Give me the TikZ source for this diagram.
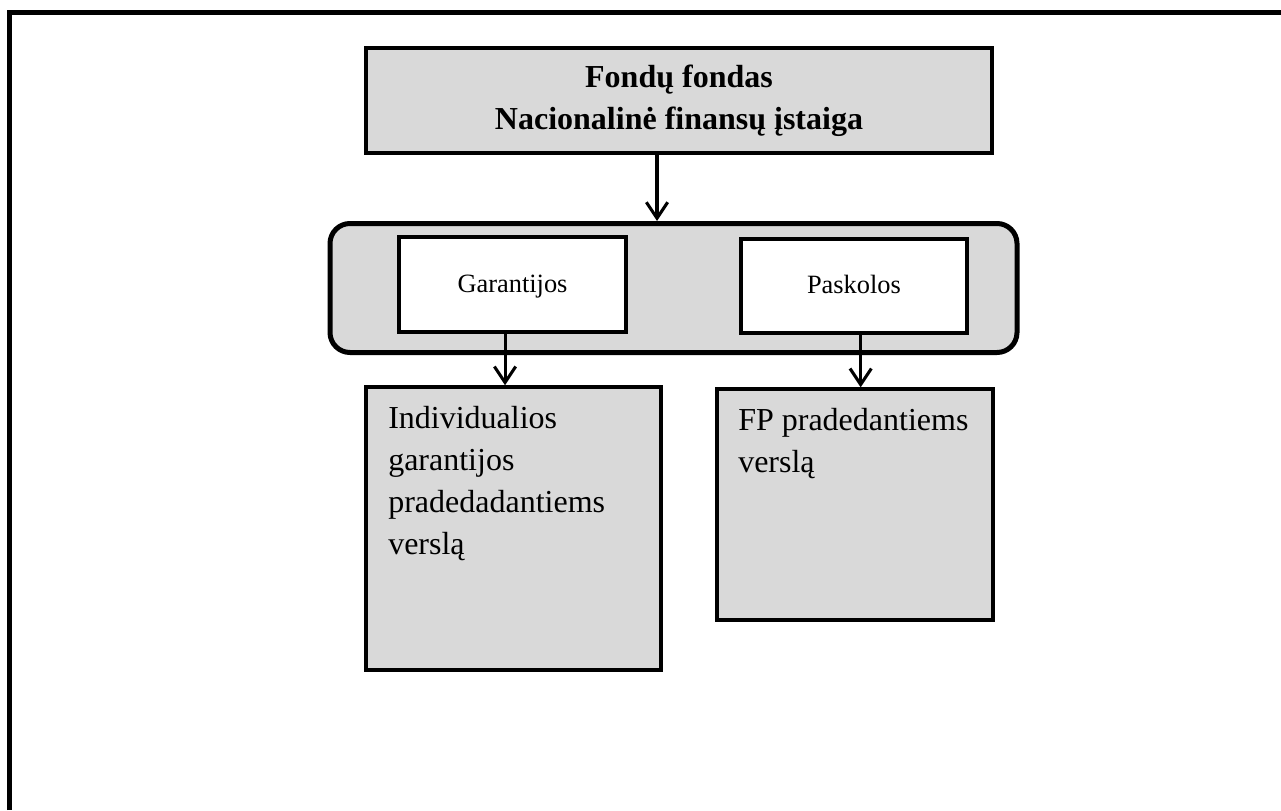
\documentclass[tikz,border=0pt]{standalone}
\usepackage{fontspec}
\setmainfont{Liberation Serif}
\usetikzlibrary{arrows.meta,positioning}
\definecolor{boxgrey}{HTML}{D9D9D9}
\tikzset{
  px/.style={x=0.75pt,y=-0.75pt},
  framebox/.style={line width=3.75pt},
  greybox/.style={draw, fill=boxgrey, line width=2.6pt, inner sep=0pt},
  whitebox/.style={draw, fill=white, line width=2.6pt, inner sep=0pt,
                   text height=14pt, text depth=2.75pt, font=\fontsize{19.8}{23}\selectfont},
  groupbox/.style={draw, fill=boxgrey, line width=3.75pt, rounded corners=15pt, inner sep=0pt},
  bodytext/.style={anchor=north west, align=left, inner sep=0pt, font=\fontsize{24}{31.5}\selectfont},
  conn/.style={line width=2.3pt, -{Straight Barb[length=12pt,width=16pt,line width=2.3pt]}}
}
\begin{document}
\begin{tikzpicture}[px]
\useasboundingbox (0,0) rectangle (1281,810);
% outer frame (only top and left edges visible)
\draw[framebox] (9.5,810) -- (9.5,12.5) -- (1281,12.5);
% top box
\node[greybox, minimum width=626*0.75pt, minimum height=105*0.75pt, align=center,
      font=\fontsize{24}{31.5}\bfseries\selectfont] (top) at (679,100.5)
  {Fondų fondas\\Nacionalinė finansų įstaiga};
% group box
\node[groupbox, minimum width=687*0.75pt, minimum height=129*0.75pt] (grp) at (673.5,288) {};
% inner boxes
\node[whitebox, minimum width=227*0.75pt, minimum height=95*0.75pt] (gar) at (512.5,284.5) {Garantijos};
\node[whitebox, minimum width=226*0.75pt, minimum height=94*0.75pt] (pas) at (854,286) {Paskolos};
% lower boxes
\node[greybox, minimum width=295*0.75pt, minimum height=283*0.75pt] (ind) at (513.5,528.5) {};
\node[greybox, minimum width=276*0.75pt, minimum height=231*0.75pt] (fp) at (855,504.5) {};
\node[bodytext] (indt) at (388,406) {Individualios\\garantijos\\pradedadantiems\\verslą};
\node[bodytext] (fpt) at (738,408) {FP pradedantiems\\verslą};
% connectors
\draw[conn] ([xshift=-16.5pt]top.south) -- ([xshift=-16.5pt]top.south |- grp.north);
\draw[conn] ([xshift=-5.6pt]gar.south) -- ([xshift=-5.6pt]gar.south |- ind.north);
\draw[conn] ([xshift=5pt]pas.south) -- ([xshift=5pt]pas.south |- fp.north);
\end{tikzpicture}
\end{document}
